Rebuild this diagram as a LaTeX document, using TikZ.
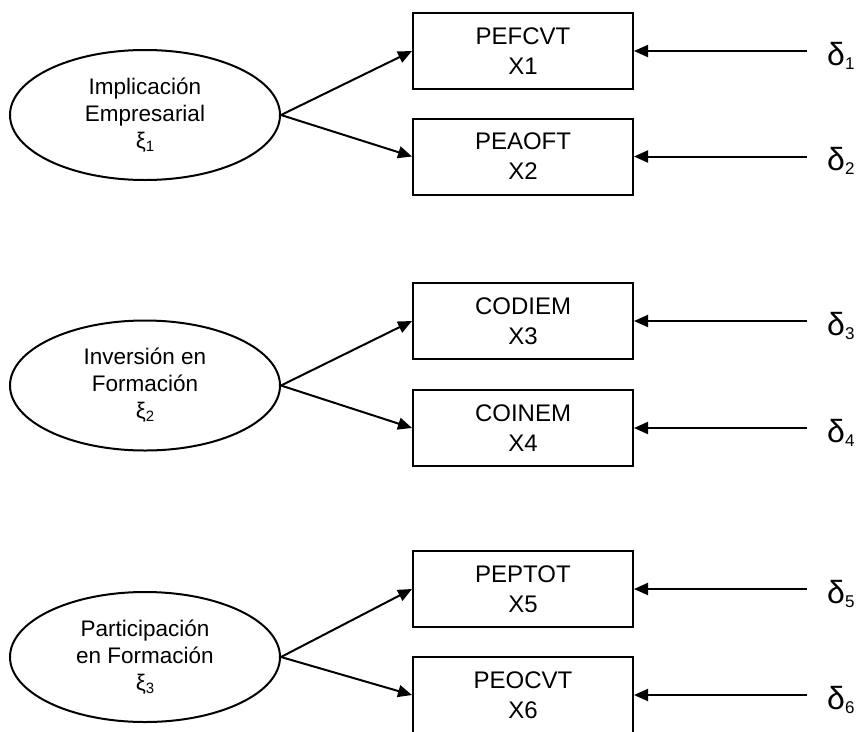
\documentclass[tikz,border=0pt]{standalone}
\usepackage{fontspec}
\setmainfont{Liberation Sans}
\usetikzlibrary{shapes.geometric,arrows.meta}

% subscripts for the latent and error symbols
\newcommand\xisub[1]{\raisebox{-3pt}{\fontsize{15}{15}\selectfont #1}}
\newcommand\deltasub[1]{\raisebox{-4pt}{\fontsize{17}{17}\selectfont #1}}

\begin{document}
\begin{tikzpicture}[x=1pt,y=-1pt,
  latent/.style={draw, line width=2pt, ellipse, minimum width=270pt,
    minimum height=130pt, inner sep=0pt, align=center,
    font=\fontsize{22.5}{27}\selectfont},
  indicator/.style={draw, line width=2pt, rectangle, minimum width=220pt,
    minimum height=76pt, inner sep=0pt, align=center,
    font=\fontsize{24}{30}\selectfont},
  errlabel/.style={anchor=base west, inner sep=0pt,
    font=\fontsize{32}{32}\selectfont},
  loading/.style={line width=2pt, -{Triangle[length=14pt,width=12pt]}}
]
\useasboundingbox (0,0) rectangle (856,731);

% latent factors
\node[latent] (e1) at (145,115) {Implicación\\Empresarial\\ξ\xisub{1}};
\node[latent] (e2) at (145,385.5) {Inversión en\\Formación\\ξ\xisub{2}};
\node[latent] (e3) at (145,657) {Participación\\en Formación\\ξ\xisub{3}};

% observed indicators
\node[indicator] (b1) at (523,51)  {PEFCVT\\X1};
\node[indicator] (b2) at (523,156.5) {PEAOFT\\X2};
\node[indicator] (b3) at (523,321) {CODIEM\\X3};
\node[indicator] (b4) at (523,428) {COINEM\\X4};
\node[indicator] (b5) at (523,589) {PEPTOT\\X5};
\node[indicator] (b6) at (523,695) {PEOCVT\\X6};

% loadings
\draw[loading] (e1.east) -- (b1.west);
\draw[loading] (e1.east) -- (b2.west);
\draw[loading] (e2.east) -- (b3.west);
\draw[loading] (e2.east) -- (b4.west);
\draw[loading] (e3.east) -- (b5.west);
\draw[loading] (e3.east) -- (b6.west);

% measurement errors
\foreach \i/\y in {1/51, 2/156.5, 3/321, 4/428, 5/589, 6/695}{
  \coordinate (d\i) at (807,\y);
  \node[errlabel] (l\i) at (827,\y+14) {δ\deltasub{\i}};
  \draw[loading] (d\i) -- (b\i.east);
}
\end{tikzpicture}
\end{document}
